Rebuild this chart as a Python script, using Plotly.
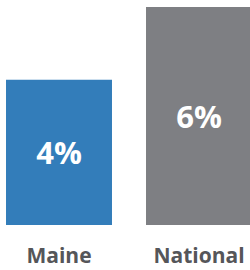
import plotly.graph_objects as go

categories = ["Maine", "National"]
values = [4, 6]
labels = ["4%", "6%"]
colors = ["#337DBA", "#7E7F83"]

fig = go.Figure(go.Bar(
    x=categories,
    y=values,
    text=labels,
    textposition="inside",
    insidetextanchor="middle",
    textangle=0,
    textfont=dict(family="Open Sans", size=31, color="white", weight="bold"),
    marker=dict(color=colors, line=dict(width=0)),
    width=0.757,
    hoverinfo="skip",
))

fig.update_layout(
    width=250, height=270,
    margin=dict(l=0, r=0, t=0, b=45, autoexpand=False),
    paper_bgcolor="white", plot_bgcolor="white",
    showlegend=False,
    uniformtext=dict(minsize=31, mode="show"),
    xaxis=dict(
        range=[-0.4214, 1.3643],
        automargin=False,
        showgrid=False, zeroline=False, showline=False, ticks="",
        tickfont=dict(family="Open Sans", size=21, color="#555659", weight="bold"),
        ticklabelstandoff=16,
    ),
    yaxis=dict(range=[0, 6.193], visible=False, automargin=False),
)

fig.write_html(
    "out.html",
    config={"displayModeBar": False},
    post_script="document.body.style.margin='0';document.body.style.overflow='hidden';",
)
